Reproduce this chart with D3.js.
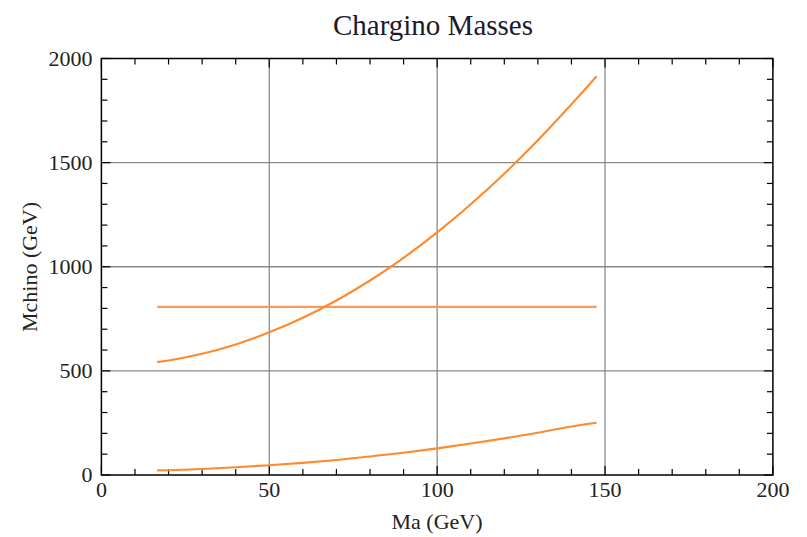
<!DOCTYPE html>
<html><head><meta charset="utf-8">
<script src="https://cdn.jsdelivr.net/npm/d3@7"></script>
<style>body{margin:0;background:#fff}</style>
</head><body>
<svg id="chart" width="807" height="537"></svg>
<script>
const maValues = [16.6, 20, 30, 40, 50, 60, 70, 80, 90, 100, 110, 120, 130, 140, 147.5];
const heavyChargino = [542, 550, 582, 627, 685, 755, 838, 934, 1043, 1165, 1300, 1447, 1607, 1780, 1915];
const flatChargino = [807, 807, 807, 807, 807, 807, 807, 807, 807, 807, 807, 807, 807, 807, 807];
const lightChargino = [22, 23, 29, 37, 47, 58, 72, 89, 107, 128, 151, 176, 203, 233, 251];
const xTicks = [0, 50, 100, 150, 200];
const yTicks = [0, 500, 1000, 1500, 2000];
const titleText = "Chargino Masses";
const xTitle = "Ma (GeV)";
const yTitle = "Mchino (GeV)";

(function () {
const svg = d3.select("#chart");
const pL = 101.4, pR = 772.9, pT = 58.5, pB = 475;
const x = d3.scaleLinear().domain([0, 200]).range([pL, pR]);
const y = d3.scaleLinear().domain([0, 2000]).range([pB, pT]);
const font = "'Liberation Serif', 'Times New Roman', serif";

// grid
const grid = svg.append("g").attr("stroke", "#8a8a8a").attr("stroke-width", 1.3);
xTicks.slice(1, -1).forEach(t => grid.append("line").attr("x1", x(t)).attr("x2", x(t)).attr("y1", pT).attr("y2", pB));
yTicks.slice(1, -1).forEach(t => grid.append("line").attr("y1", y(t)).attr("y2", y(t)).attr("x1", pL).attr("x2", pR));

// ticks on all sides
const tk = svg.append("g").attr("stroke", "#000").attr("stroke-width", 1.2);
d3.range(0, 201, 10).forEach(t => {
  const len = t % 50 === 0 ? 9 : 6;
  tk.append("line").attr("x1", x(t)).attr("x2", x(t)).attr("y1", pB).attr("y2", pB - len);
  tk.append("line").attr("x1", x(t)).attr("x2", x(t)).attr("y1", pT).attr("y2", pT + len);
});
d3.range(0, 2001, 100).forEach(t => {
  const len = t % 500 === 0 ? 9 : 6;
  tk.append("line").attr("y1", y(t)).attr("y2", y(t)).attr("x1", pL).attr("x2", pL + len);
  tk.append("line").attr("y1", y(t)).attr("y2", y(t)).attr("x1", pR).attr("x2", pR - len);
});

// frame
svg.append("rect").attr("x", pL).attr("y", pT).attr("width", pR - pL).attr("height", pB - pT)
  .attr("fill", "none").attr("stroke", "#000").attr("stroke-width", 1.5);

// tick labels
const lbl = svg.append("g").attr("font-family", font).attr("font-size", 22).attr("fill", "#222");
xTicks.forEach(t => lbl.append("text").attr("x", x(t)).attr("y", 497).attr("text-anchor", "middle").text(t));
yTicks.forEach(t => lbl.append("text").attr("x", pL - 9).attr("y", y(t) + 7).attr("text-anchor", "end").text(t));

// lines
const line = vals => d3.line().x((d, i) => x(maValues[i])).y(d => y(d)).curve(d3.curveCatmullRom)(vals);
svg.append("path").attr("d", line(flatChargino)).attr("fill", "none").attr("stroke", "#f79a5e").attr("stroke-width", 2.3);
svg.append("path").attr("d", line(heavyChargino)).attr("fill", "none").attr("stroke", "#ff8a2e").attr("stroke-width", 2.1);
svg.append("path").attr("d", line(lightChargino)).attr("fill", "none").attr("stroke", "#ff8a2e").attr("stroke-width", 2.1);

// titles
svg.append("text").attr("x", 433).attr("y", 35).attr("text-anchor", "middle").attr("font-family", font)
  .attr("font-size", 29).attr("fill", "#1a1a2a").text(titleText);
svg.append("text").attr("x", 437).attr("y", 529).attr("text-anchor", "middle").attr("font-family", font)
  .attr("font-size", 22).attr("fill", "#222").text(xTitle);
svg.append("text").attr("transform", "translate(37,267) rotate(-90)").attr("text-anchor", "middle").attr("font-family", font)
  .attr("font-size", 22).attr("fill", "#222").text(yTitle);
})();
</script>
</body></html>
